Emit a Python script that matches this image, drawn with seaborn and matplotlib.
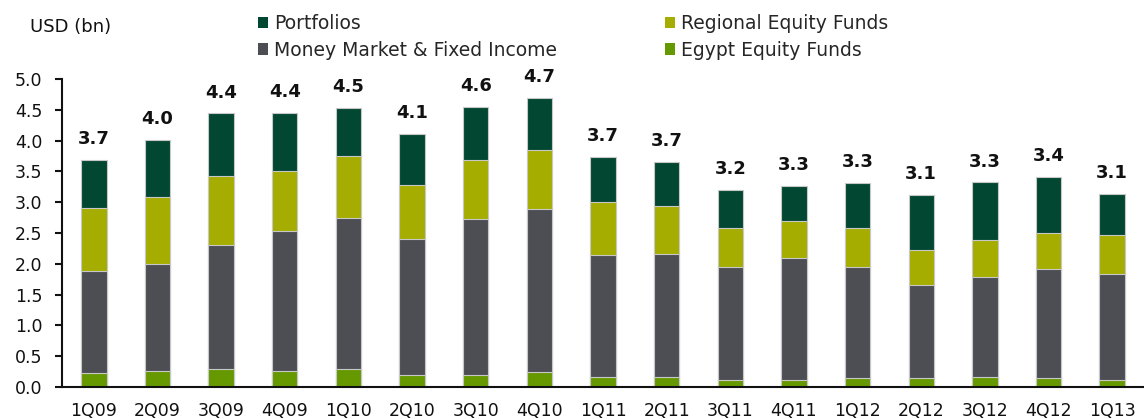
import numpy as np
import pandas as pd
import matplotlib
matplotlib.use("Agg")
import matplotlib.pyplot as plt
from matplotlib.patches import Patch
import seaborn as sns

# Datos (USD bn)
trimestres = ["1Q09", "2Q09", "3Q09", "4Q09", "1Q10", "2Q10", "3Q10", "4Q10",
              "1Q11", "2Q11", "3Q11", "4Q11", "1Q12", "2Q12", "3Q12", "4Q12", "1Q13"]
egypt = [0.23, 0.26, 0.29, 0.26, 0.29, 0.19, 0.20, 0.25,
         0.16, 0.17, 0.12, 0.12, 0.15, 0.14, 0.16, 0.14, 0.12]
money_market = [1.65, 1.73, 2.01, 2.28, 2.46, 2.21, 2.52, 2.64,
                1.98, 1.99, 1.83, 1.97, 1.79, 1.51, 1.62, 1.78, 1.72]
regional = [1.03, 1.09, 1.13, 0.97, 1.00, 0.88, 0.97, 0.95,
            0.87, 0.78, 0.63, 0.61, 0.64, 0.57, 0.61, 0.58, 0.63]
portfolios = [0.77, 0.93, 1.01, 0.94, 0.78, 0.82, 0.86, 0.85,
              0.73, 0.72, 0.62, 0.57, 0.73, 0.89, 0.93, 0.91, 0.67]
etiquetas_total = ["3.7", "4.0", "4.4", "4.4", "4.5", "4.1", "4.6", "4.7",
                   "3.7", "3.7", "3.2", "3.3", "3.3", "3.1", "3.3", "3.4", "3.1"]

series = ["Portfolios", "Money Market & Fixed Income", "Regional Equity Funds", "Egypt Equity Funds"]
colores = {
    "Portfolios": "#024731",
    "Regional Equity Funds": "#A5AD00",
    "Money Market & Fixed Income": "#4D4E53",
    "Egypt Equity Funds": "#669900",
}

# Tabla y acumulados para apilar
df = pd.DataFrame({
    "Trimestre": trimestres,
    "Egypt Equity Funds": egypt,
    "Money Market & Fixed Income": money_market,
    "Regional Equity Funds": regional,
    "Portfolios": portfolios,
})
orden_apilado = ["Egypt Equity Funds", "Money Market & Fixed Income", "Regional Equity Funds", "Portfolios"]
acum = df[orden_apilado].cumsum(axis=1)
acum["Trimestre"] = trimestres

sns.set_style("white")
plt.rcParams["font.family"] = ["DejaVu Sans"]

fig = plt.figure(figsize=(11.44, 4.19), dpi=100)
ax = fig.add_axes([62 / 1144, 32 / 419, 1 - 62 / 1144, 308 / 419])

# Se dibuja de arriba hacia abajo (superposición)
for serie in reversed(orden_apilado):
    sns.barplot(data=acum, x="Trimestre", y=serie, color=colores[serie],
                width=0.40, edgecolor="#c8c8c8", linewidth=0.8,
                saturation=1, ax=ax, order=trimestres)

# Etiquetas de total
totales = acum["Portfolios"].values
for i, txt in enumerate(etiquetas_total):
    ax.annotate(txt, (i, totales[i]), xytext=(0, 11.5), textcoords="offset points",
                ha="center", va="baseline", fontsize=13, fontweight="bold", color="#111111")

ax.set_ylim(0, 5.0)
ax.set_xlim(-0.5, 16.33)
ax.set_yticks(np.arange(0, 5.01, 0.5))
ax.set_yticklabels([f"{v:.1f}" for v in np.arange(0, 5.01, 0.5)])
ax.set_xlabel("")
ax.set_ylabel("")

# Ticks del eje x en los límites de categoría
ax.set_xticks(np.arange(len(trimestres)))
ax.set_xticklabels(trimestres)
ax.set_xticks(np.arange(-0.5, len(trimestres), 1), minor=True)
ax.tick_params(axis="x", which="major", length=0, pad=11, labelsize=12.5, colors="#111111")
ax.tick_params(axis="x", which="minor", length=6, width=1.5, direction="out", color="#111111")
ax.tick_params(axis="y", length=5, width=1.5, direction="out", pad=9, labelsize=12.5,
               left=True, colors="#111111")

sns.despine(ax=ax, top=True, right=True)
for s in ["left", "bottom"]:
    ax.spines[s].set_color("#111111")
    ax.spines[s].set_linewidth(1.5)

fig.text(30 / 1144, 1 - 27 / 419, "USD (bn)", fontsize=13, va="center", ha="left", color="#111111")

handles = [Patch(facecolor=colores[s], edgecolor="none") for s in series]
fig.legend(handles, series, loc="upper left", bbox_to_anchor=(258 / 1144, 1 - 14 / 419),
           ncol=2, frameon=False, fontsize=13.5, handlelength=0.55, handleheight=0.55,
           handletextpad=0.3, labelspacing=0.4, columnspacing=5.75, borderaxespad=0, borderpad=0)

fig.savefig("out.png", dpi=100)
